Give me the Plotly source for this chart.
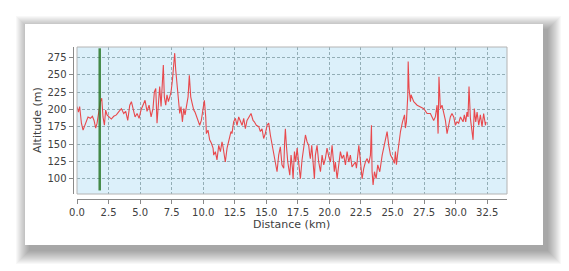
import plotly.graph_objects as go

# ---------------- data ----------------
distance_km = [
    0.00, 0.11, 0.21, 0.35, 0.48, 0.61, 0.74, 0.87, 1.06, 1.22, 1.35, 1.48, 1.59, 1.72,
    1.85, 1.96, 2.06, 2.17, 2.27, 2.38, 2.54, 2.72, 2.91, 3.12, 3.33, 3.52, 3.70, 3.86,
    4.02, 4.18, 4.31, 4.44, 4.60, 4.76, 4.92, 5.07, 5.23, 5.39, 5.55, 5.71, 5.87, 6.02,
    6.13, 6.24, 6.34, 6.45, 6.55, 6.66, 6.76, 6.84, 6.92, 7.03, 7.13, 7.24, 7.35, 7.45,
    7.56, 7.66, 7.74, 7.82, 7.93, 8.03, 8.14, 8.24, 8.35, 8.46, 8.56, 8.67, 8.80, 8.90,
    9.01, 9.12, 9.25, 9.35, 9.46, 9.59, 9.72, 9.85, 9.99, 10.09, 10.20, 10.25, 10.38,
    10.51, 10.65, 10.78, 10.83, 10.96, 11.09, 11.23, 11.36, 11.49, 11.57, 11.75, 11.89,
    12.10, 12.20, 12.28, 12.41, 12.55, 12.68, 12.81, 12.94, 13.08, 13.21, 13.34, 13.47,
    13.68, 13.79, 13.95, 14.05, 14.21, 14.40, 14.53, 14.66, 14.79, 14.92, 15.06, 15.19,
    15.32, 15.58, 15.72, 15.85, 15.98, 16.11, 16.24, 16.38, 16.45, 16.51, 16.59, 16.70,
    16.86, 16.96, 17.07, 17.12, 17.23, 17.33, 17.44, 17.57, 17.70, 17.83, 17.96, 18.10,
    18.23, 18.36, 18.44, 18.49, 18.60, 18.70, 18.81, 18.89, 19.02, 19.15, 19.29, 19.42,
    19.55, 19.68, 19.81, 19.95, 20.08, 20.21, 20.29, 20.39, 20.47, 20.61, 20.74, 20.87,
    21.00, 21.13, 21.27, 21.40, 21.53, 21.66, 21.79, 21.93, 22.06, 22.14, 22.25, 22.33,
    22.41, 22.51, 22.59, 22.72, 22.85, 22.99, 23.12, 23.25, 23.33, 23.38, 23.46, 23.57,
    23.70, 23.83, 23.99, 24.18, 24.36, 24.57, 24.70, 24.84, 25.05, 25.15, 25.23, 25.31,
    25.44, 25.63, 25.79, 25.95, 26.02, 26.10, 26.21, 26.24, 26.31, 26.42, 26.47, 26.68,
    26.95, 27.21, 27.48, 27.74, 28.00, 28.26, 28.39, 28.53, 28.61, 28.68, 28.79, 28.92,
    29.05, 29.19, 29.32, 29.45, 29.58, 29.71, 29.85, 29.98, 30.11, 30.24, 30.38, 30.59,
    30.69, 30.80, 30.90, 30.98, 31.06, 31.17, 31.38, 31.48, 31.59, 31.70, 31.83, 31.96,
    32.09, 32.22, 32.36, 32.41,
]
altitude_m = [
    204, 196, 204, 180, 170, 177, 184, 189, 187, 190, 184, 173, 180, 199,
    211, 216, 189, 177, 199, 192, 189, 186, 190, 192, 197, 201, 194, 197,
    184, 206, 211, 199, 189, 194, 187, 199, 206, 213, 197, 206, 189, 201,
    225, 230, 180, 216, 233, 204, 237, 264, 218, 206, 221, 211, 218, 225,
    242, 269, 281, 257, 237, 213, 194, 204, 182, 201, 192, 204, 218, 249,
    218, 209, 199, 196, 190, 184, 177, 184, 199, 213, 189, 165, 170,
    156, 151, 144, 134, 139, 127, 148, 139, 153, 146, 124, 144,
    158, 168, 165, 182, 187, 177, 189, 182, 177, 187, 172, 184,
    192, 194, 184, 182, 177, 175, 168, 172, 158, 165, 177, 180,
    163, 134, 124, 110, 134, 146, 120, 115, 153, 172, 148, 124,
    105, 134, 115, 100, 139, 124, 144, 120, 100, 127, 144, 163,
    153, 148, 134, 129, 148, 120, 100, 134, 148, 124, 110, 134,
    120, 129, 144, 132, 124, 148, 129, 110, 124, 100, 120, 139,
    129, 134, 120, 139, 124, 134, 117, 120, 124, 115, 139, 148,
    134, 110, 100, 115, 124, 129, 122, 134, 177, 110, 91, 110,
    100, 120, 110, 134, 148, 168, 148, 134, 127, 122, 139, 120,
    141, 168, 182, 192, 173, 182, 221, 269, 230, 211, 221, 211,
    206, 204, 201, 194, 194, 184, 189, 206, 165, 247, 201, 206,
    194, 184, 165, 177, 189, 194, 189, 177, 182, 180, 189, 182,
    192, 182, 196, 189, 233, 187, 156, 201, 182, 196, 177, 192,
    175, 194, 177, 182,
]
x_tick_values = [0, 2.5, 5, 7.5, 10, 12.5, 15, 17.5, 20, 22.5, 25, 27.5, 30, 32.5]
x_tick_labels = ["0.0", "2.5", "5.0", "7.5", "10.0", "12.5", "15.0", "17.5",
                 "20.0", "22.5", "25.0", "27.5", "30.0", "32.5"]
y_tick_values = [100, 125, 150, 175, 200, 225, 250, 275]
y_tick_labels = ["100", "125", "150", "175", "200", "225", "250", "275"]
marker_km = [1.8, 1.8]
marker_alt = [83, 288]
x_title = "Distance (km)"
y_title = "Altitude (m)"

# ---------------- layout geometry ----------------
W, H = 569, 271


def px(x):
    return x / W


def py(y):
    return 1 - y / H


PL, PR, PT, PB = 77, 507, 47, 194     # plot area in pixels
PANEL = (25, 24, 543, 245)            # white card in pixels
FONT = "DejaVu Sans"
TXT = "#404040"
GRID = "#93AEB6"
AXIS = "#8a8a8a"

fig = go.Figure()
fig.add_trace(go.Scatter(
    x=distance_km, y=altitude_m, mode="lines",
    line=dict(color="#E8494D", width=1.1), hoverinfo="skip", showlegend=False,
))

shapes = []
# soft drop shadow, offset to the lower right
for b in range(14, 0, -1):
    shapes.append(dict(
        type="rect", xref="paper", yref="paper", layer="below",
        x0=px(PANEL[0] - b + 5), x1=px(PANEL[2] + b + 4),
        y0=py(PANEL[3] + b + 5), y1=py(PANEL[1] - b + 6),
        fillcolor="rgba(0,0,0,0.026)", line=dict(width=0),
    ))
# white card
shapes.append(dict(
    type="rect", xref="paper", yref="paper", layer="below",
    x0=px(PANEL[0]), x1=px(PANEL[2]), y0=py(PANEL[3]), y1=py(PANEL[1]),
    fillcolor="white", line=dict(width=0),
))
# plot background
shapes.append(dict(
    type="rect", xref="paper", yref="paper", layer="below",
    x0=px(PL), x1=px(PR), y0=py(PB), y1=py(PT),
    fillcolor="#DCF0FA", line=dict(width=0),
))
# plot outline
shapes.append(dict(
    type="rect", xref="paper", yref="paper", layer="above",
    x0=px(PL), x1=px(PR), y0=py(PB), y1=py(PT),
    fillcolor="rgba(0,0,0,0)", line=dict(color="#B4B4B4", width=1),
))
# green position marker
shapes.append(dict(
    type="line", xref="x", yref="y", layer="above",
    x0=marker_km[0], x1=marker_km[1], y0=marker_alt[0], y1=marker_alt[1],
    line=dict(color="rgba(40,120,40,0.85)", width=2.5),
))

fig.update_layout(
    width=W, height=H,
    margin=dict(l=0, r=0, t=0, b=0),
    paper_bgcolor="white",
    plot_bgcolor="rgba(0,0,0,0)",
    showlegend=False,
    shapes=shapes,
    font=dict(family=FONT, size=10, color=TXT),
    xaxis=dict(
        domain=[px(PL), px(PR)], range=[0, 34.07],
        anchor="free", position=py(198.5),
        tickmode="array", tickvals=x_tick_values, ticktext=x_tick_labels,
        ticks="outside", ticklen=4, tickcolor=AXIS, tickwidth=1,
        showline=True, linecolor=AXIS, linewidth=1,
        showgrid=True, gridcolor=GRID, gridwidth=1, griddash="3px,2px",
        zeroline=False, automargin=False,
        tickfont=dict(family=FONT, size=10, color=TXT),
    ),
    yaxis=dict(
        domain=[py(PB), py(PT)], range=[77.9, 289.9],
        anchor="free", position=px(72.5),
        tickmode="array", tickvals=y_tick_values, ticktext=y_tick_labels,
        ticks="outside", ticklen=4, tickcolor=AXIS, tickwidth=1,
        showline=True, linecolor=AXIS, linewidth=1,
        showgrid=True, gridcolor=GRID, gridwidth=1, griddash="3px,2px",
        zeroline=False, automargin=False,
        tickfont=dict(family=FONT, size=10, color=TXT),
    ),
    annotations=[
        dict(text=x_title, xref="paper", yref="paper", x=px(291), y=py(224),
             showarrow=False, xanchor="center", yanchor="middle",
             font=dict(family=FONT, size=11, color=TXT)),
        dict(text=y_title, xref="paper", yref="paper", x=px(37), y=py(120),
             showarrow=False, xanchor="center", yanchor="middle", textangle=-90,
             font=dict(family=FONT, size=11, color=TXT)),
    ],
)

fig.write_html("out.html")
